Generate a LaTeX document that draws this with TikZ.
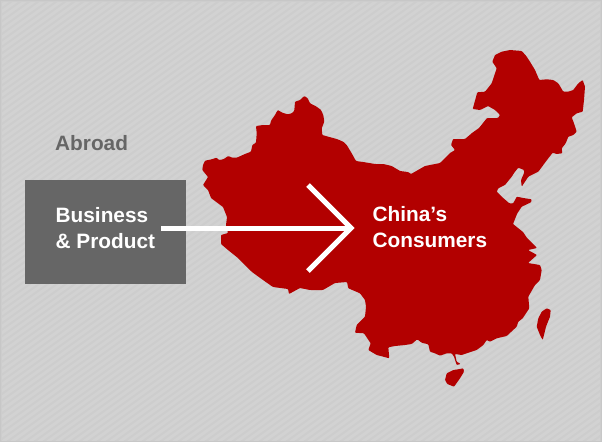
\documentclass[tikz,border=0pt]{standalone}
\usepackage{fontspec}
\setmainfont{Liberation Sans}
\definecolor{bgA}{HTML}{CDCDCD}
\definecolor{bgB}{HTML}{D2D2D2}
\definecolor{mapred}{HTML}{B20000}
\definecolor{boxgray}{HTML}{666666}
\tikzset{
  land/.style={fill=mapred,draw=none,rounded corners=0.8pt},
  bigtext/.style={font=\bfseries\fontsize{20.8}{26}\selectfont,align=left,anchor=west,inner sep=0pt},
  arrowline/.style={draw=white,line width=5pt},
}
\begin{document}
\begin{tikzpicture}[x=1pt,y=-1pt]
\useasboundingbox (0,0) rectangle (602,442);
\fill[bgA] (0,0) rectangle (602,442);
\begin{scope}
\clip (2,2) rectangle (600,440);
\foreach \i in {0,9,...,1300}{
  \draw[bgB,line width=3pt] (\i,0) -- (\i-442*1.4,442);
}
\end{scope}
\draw[color=black!22,line width=1pt] (0.5,0.5) rectangle (601.5,441.5);
% mainland
\fill[land] (202.3,170) -- (203,165) -- (205,160.7) -- (211.7,159.3) -- (216.7,157.7) -- (219,160) -- (223.3,159.3) -- (228.3,156) -- (232.3,157.7) -- (236.7,157.7) -- (245,154) -- (251,151.7) -- (252.3,145) -- (256,142.7) -- (256.7,133.3) -- (256,126) -- (263.3,125) -- (270,125) -- (271,120.7) -- (275,115) -- (277.7,110) -- (282.3,112.7) -- (287.7,114.3) -- (291.7,113.3) -- (294.3,110.7) -- (295,101.7) -- (300,100) -- (304.3,96) -- (307.7,98.3) -- (310,103.3) -- (316.7,106.7) -- (321,110) -- (323.3,115) -- (324.3,121.7) -- (321.7,128.3) -- (322.3,135) -- (328.3,136.7) -- (336.7,139) -- (343.3,141.7) -- (346.7,145) -- (351.7,153.3) -- (356,161) -- (365,162.3) -- (375,164) -- (383.3,164) -- (391.7,166) -- (400,171) -- (408,172) -- (411,174) -- (425,166) -- (440,163) -- (450,153) -- (455,150) -- (451,145) -- (453,139) -- (465,139) -- (472,133) -- (479,128) -- (487,118) -- (498,118) -- (500,115) -- (495,110) -- (488,106) -- (480,110) -- (472.7,109) -- (477.3,92.3) -- (485,91.7) -- (491.7,83.3) -- (495,73.3) -- (496.7,68.3) -- (492.3,61.7) -- (495,55) -- (501.7,51.7) -- (510,50) -- (521.7,51) -- (526,55.7) -- (530,61.7) -- (535,70) -- (539.3,80) -- (546.7,79.3) -- (553.3,80) -- (558.3,83.3) -- (563.3,91.7) -- (568.3,91.7) -- (573.3,90) -- (578.3,83.3) -- (582.7,80) -- (585,86.7) -- (584,100) -- (582.7,111.7) -- (576.7,113.3) -- (571.7,117.3) -- (574,123.3) -- (576.7,131.7) -- (573.3,135) -- (568.3,136.7) -- (565.7,143.3) -- (561.7,148.3) -- (562.3,153.3) -- (556.7,154) -- (552.7,152.7) -- (548.3,158.3) -- (543.3,165) -- (538.3,171.7) -- (528.3,176.7) -- (525,181.7) -- (521.7,186.7) -- (521,180) -- (524,173.3) -- (524,170) -- (518.3,167.7) -- (515,171.7) -- (511.7,176.7) -- (505,185) -- (498.3,188.3) -- (496.7,191.7) -- (501.7,196.7) -- (509.3,203.3) -- (513.3,203.3) -- (516.7,196.7) -- (525,198.3) -- (531.7,199.3) -- (531,202.3) -- (521.7,206.7) -- (517.3,213.3) -- (513,224) -- (523,232) -- (527,238) -- (537,248) -- (528,250) -- (537,255) -- (528,263) -- (540,265) -- (541.7,270) -- (540,280) -- (535,285) -- (528.3,296.7) -- (529.3,308.3) -- (522.7,318.3) -- (518.3,321.7) -- (516.7,326.7) -- (506.7,336) -- (496.7,338.3) -- (490,341.7) -- (486.7,340) -- (483.3,345) -- (476.7,350) -- (461.7,355) -- (455,354) -- (456.7,361.7) -- (460.7,364) -- (456.7,365) -- (454,356.7) -- (451.7,353.3) -- (446.7,353.3) -- (440,355.7) -- (435,353.3) -- (430,351.7) -- (428.3,344.3) -- (421.7,342.7) -- (417.3,339.3) -- (411.7,344) -- (405,345) -- (395,346) -- (388.3,347.3) -- (389.3,358.3) -- (383.3,356.7) -- (376.7,355) -- (368.3,350) -- (370.7,343.3) -- (364,333.3) -- (355,332.7) -- (356.7,325) -- (365,316.7) -- (366,306.7) -- (365,300) -- (360,293.3) -- (348.3,288.3) -- (347,282) -- (335,283) -- (323,290) -- (310,290) -- (300,288) -- (289,294) -- (288,289) -- (273,287) -- (263,280) -- (252,272) -- (238,258) -- (228,250) -- (221,244) -- (221,235) -- (228,233) -- (226,225) -- (227,217) -- (223,207) -- (211,198) -- (208,190) -- (203,185) -- (208,177) -- cycle;
% Taiwan
\fill[land] (546.7,308.3) -- (550.7,310) -- (550,316.7) -- (546,326.7) -- (542.7,340) -- (540,335) -- (536.7,326.7) -- (538.3,318.3) -- (541.7,311.7) -- cycle;
% Hainan
\fill[land] (463.3,368.3) -- (464,371.7) -- (460,378.3) -- (454,386.7) -- (447.3,384) -- (445,380) -- (446.7,373.3) -- (453.3,370) -- (458.3,369.3) -- cycle;
% box
\node[fill=boxgray,inner sep=0pt,minimum width=161pt,minimum height=104pt,anchor=north west] (box) at (25,180) {};
\node[bigtext,text=white] (biz) at (55.5,228.5) {Business\\\& Product};
\node[bigtext,text=boxgray] (abroad) at (55,143) {Abroad};
\node[bigtext,text=white] (cons) at (372.5,227.5) {China’s\\Consumers};
\coordinate (tail) at (161,228);
\coordinate (tip) at (351,228);
\coordinate (up) at (308,185);
\coordinate (down) at (308,271);
\draw[arrowline] (tail) -- (tip);
\draw[arrowline,miter limit=10] (up) -- (tip) -- (down);
\end{tikzpicture}
\end{document}
